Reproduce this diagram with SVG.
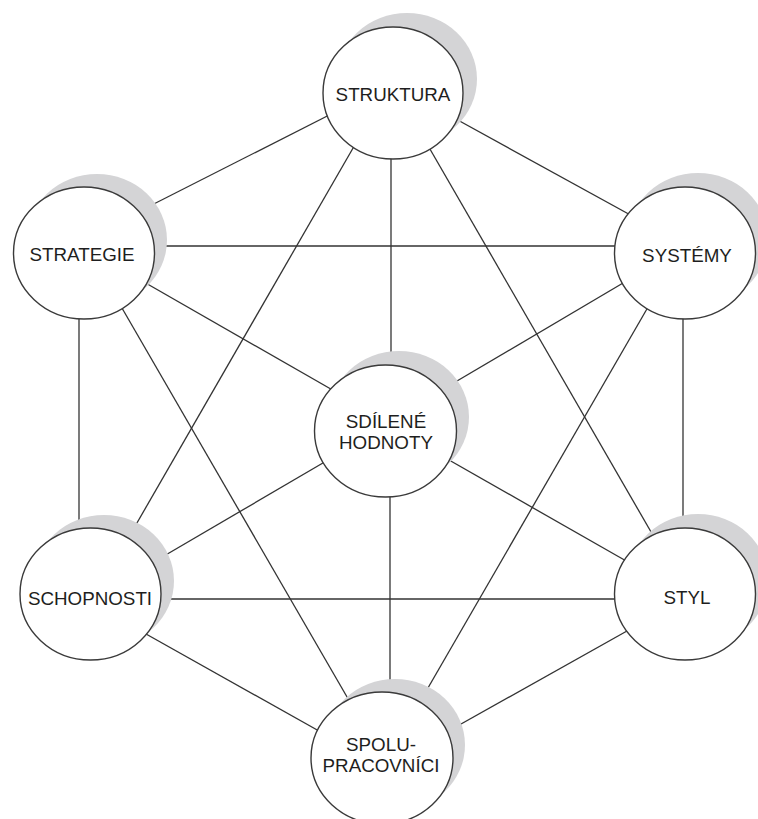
<svg xmlns="http://www.w3.org/2000/svg" width="758" height="819" viewBox="0 0 758 819">
<style>
.bg{fill:#ffffff}
.edge{stroke:#333333;stroke-width:1.3;fill:none}
.shadow{fill:#d4d4d6;stroke:none}
.node{fill:#ffffff;stroke:#3a3a3a;stroke-width:1.4}
.lbl{font-family:"Liberation Sans",Arial,sans-serif;font-size:18.8px;fill:#1e1e20;text-anchor:middle}
</style>
<rect class="bg" x="0" y="0" width="758" height="819"/>
<g id="connectors">
<line class="edge" x1="343" y1="108" x2="138" y2="212"/>
<line class="edge" x1="445" y1="113" x2="645" y2="223"/>
<line class="edge" x1="391" y1="140" x2="391" y2="380"/>
<line class="edge" x1="360" y1="136" x2="130" y2="535"/>
<line class="edge" x1="423" y1="137" x2="658" y2="544"/>
<line class="edge" x1="130" y1="246" x2="640" y2="246"/>
<line class="edge" x1="130" y1="274" x2="350" y2="400"/>
<line class="edge" x1="79" y1="300" x2="79" y2="545"/>
<line class="edge" x1="115" y1="296" x2="354" y2="709"/>
<line class="edge" x1="640" y1="273" x2="440" y2="391"/>
<line class="edge" x1="683" y1="300" x2="683" y2="545"/>
<line class="edge" x1="655" y1="295" x2="421" y2="700"/>
<line class="edge" x1="340" y1="453" x2="152" y2="563"/>
<line class="edge" x1="435" y1="452" x2="642" y2="570"/>
<line class="edge" x1="390" y1="480" x2="390" y2="710"/>
<line class="edge" x1="130" y1="599" x2="640" y2="599"/>
<line class="edge" x1="130" y1="625" x2="335" y2="740"/>
<line class="edge" x1="643" y1="622" x2="445" y2="733"/>
</g>
<g id="node-struktura">
<ellipse class="shadow" cx="407" cy="79" rx="70" ry="66"/>
<ellipse class="node" cx="393" cy="93" rx="70" ry="66"/>
<text class="lbl" x="393" y="100.7">STRUKTURA</text>
</g>
<g id="node-strategie">
<ellipse class="shadow" cx="97" cy="240" rx="70" ry="66"/>
<ellipse class="node" cx="84" cy="253" rx="70.5" ry="66"/>
<text class="lbl" x="82" y="260.7">STRATEGIE</text>
</g>
<g id="node-systemy">
<ellipse class="shadow" cx="698" cy="239" rx="70" ry="66"/>
<ellipse class="node" cx="685" cy="253" rx="70.5" ry="66"/>
<text class="lbl" x="687" y="261.5">SYSTÉMY</text>
</g>
<g id="node-sdilene-hodnoty">
<ellipse class="shadow" cx="399" cy="417" rx="70" ry="66"/>
<ellipse class="node" cx="385.5" cy="431" rx="71" ry="66"/>
<text class="lbl" x="386" y="428.3">SDÍLENÉ</text>
<text class="lbl" x="386" y="449">HODNOTY</text>
</g>
<g id="node-schopnosti">
<ellipse class="shadow" cx="104" cy="581" rx="70" ry="66"/>
<ellipse class="node" cx="90.5" cy="594" rx="70.5" ry="66"/>
<text class="lbl" x="90" y="605.3">SCHOPNOSTI</text>
</g>
<g id="node-styl">
<ellipse class="shadow" cx="698" cy="580" rx="70" ry="66"/>
<ellipse class="node" cx="685" cy="594" rx="70.5" ry="66"/>
<text class="lbl" x="687" y="604">STYL</text>
</g>
<g id="node-spolupracovnici">
<ellipse class="shadow" cx="395" cy="745" rx="70" ry="66"/>
<ellipse class="node" cx="382" cy="758" rx="71" ry="66"/>
<text class="lbl" x="381" y="751">SPOLU-</text>
<text class="lbl" x="381" y="771.7">PRACOVNÍCI</text>
</g>
</svg>
